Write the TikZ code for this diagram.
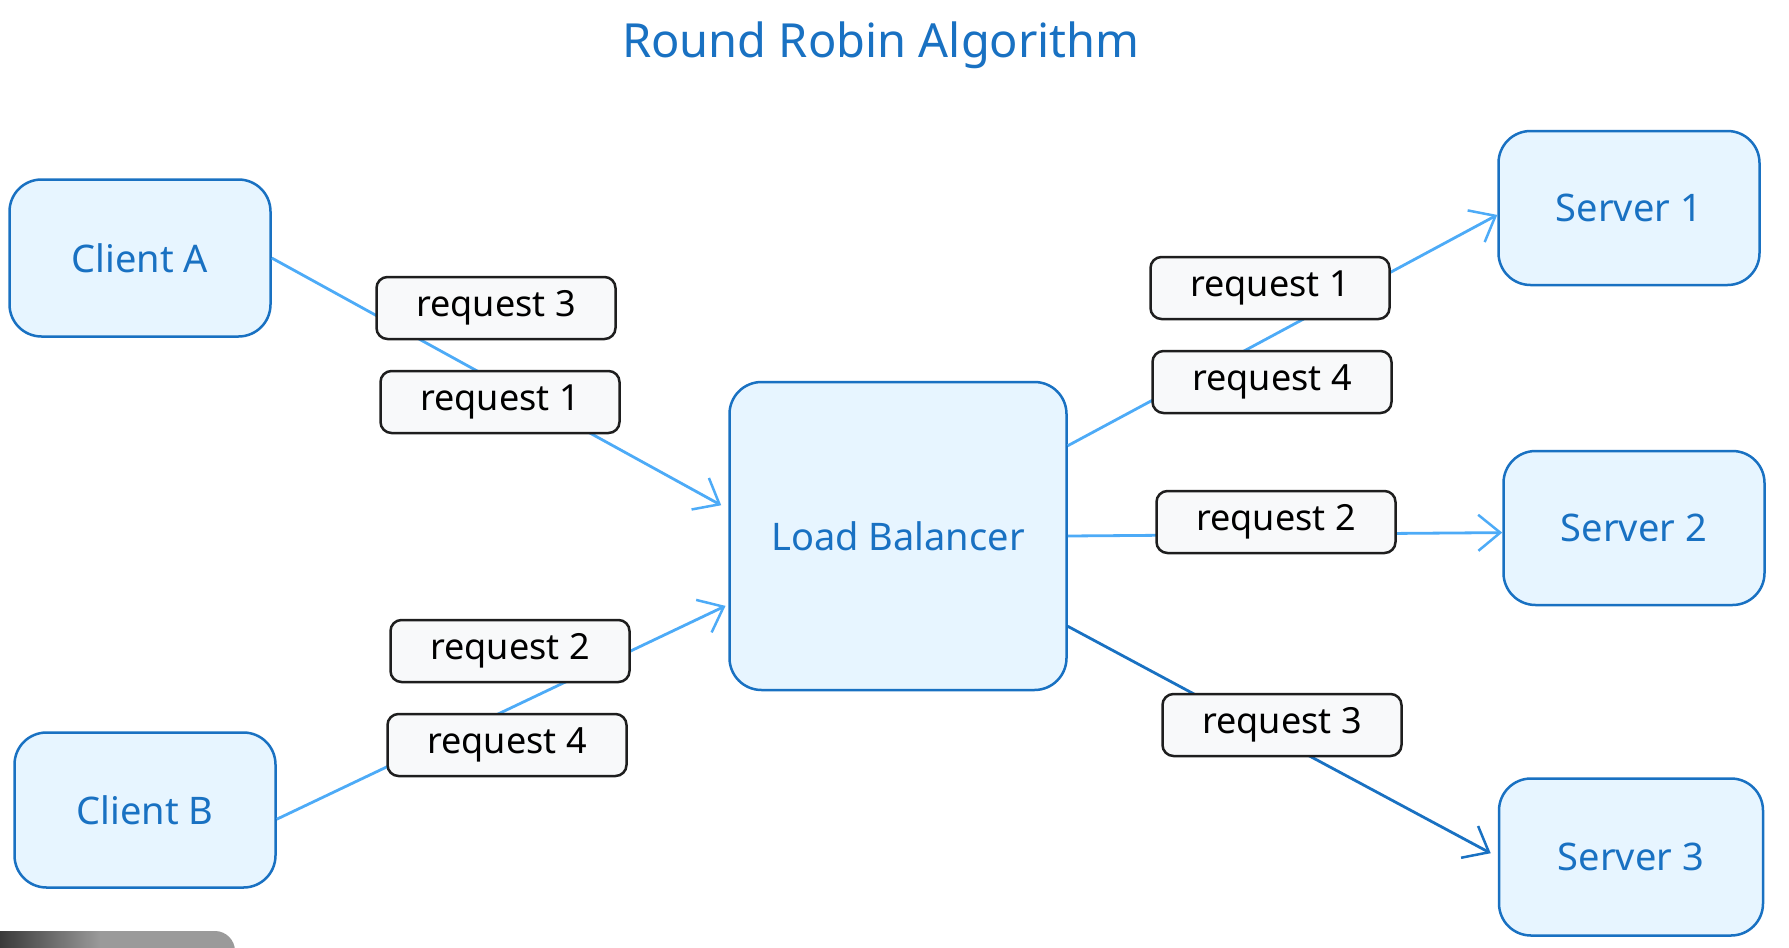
\documentclass[tikz,border=0pt]{standalone}
\usepackage{fontspec}
\setmainfont{Noto Sans}
\usetikzlibrary{arrows.meta,calc}
\definecolor{boxfill}{HTML}{E7F5FF}
\definecolor{boxline}{HTML}{1971C2}
\definecolor{arrlight}{HTML}{4DABF7}
\definecolor{tagfill}{HTML}{F8F9FA}
\definecolor{tagline}{HTML}{1E1E1E}
\definecolor{bargray}{HTML}{9A9A9A}
\definecolor{bardark}{HTML}{3A3A3A}
\tikzset{
  bigbox/.style={draw=boxline, fill=boxfill, line width=2.5pt, rounded corners=32pt,
    text=boxline, font=\fontsize{38}{44}\selectfont, inner sep=0pt},
  tag/.style={draw=tagline, fill=tagfill, line width=2.5pt, rounded corners=11pt,
    minimum width=239pt, minimum height=62pt, inner sep=0pt,
    font=\fontsize{36}{40}\selectfont},
  arr/.style={draw=arrlight, line width=2.8pt,
    -{Straight Barb[length=22pt,width=36pt,line width=2.5pt]}},
  arrdark/.style={arr, draw=boxline},
}
\begin{document}
\begin{tikzpicture}[x=1pt,y=-1pt]
\useasboundingbox (0,0) rectangle (1789,948);
% screenshot artifact at bottom left
\begin{scope}
\clip (0,0) rectangle (1789,948);
\fill[bargray] (0,970) -- (0,931) -- (215,931) .. controls (226,931) and (235,940) .. (235,951) -- (235,970) -- cycle;
\shade[left color=bardark, right color=bargray] (0,931) rectangle (100,970);
\end{scope}
% title
\node[text=boxline, font=\fontsize{47}{54}\selectfont] (title) at (881,45) {Round Robin Algorithm};
% main boxes
\node[bigbox, minimum width=261pt, minimum height=157pt] (ca) at (140,258) {Client A};
\node[bigbox, minimum width=261pt, minimum height=155pt] (cb) at (145,810) {Client B};
\node[bigbox, minimum width=337pt, minimum height=308pt] (lb) at (898,536) {Load Balancer};
\node[bigbox, minimum width=261pt, minimum height=154pt] (s1) at (1629,208) {Server 1};
\node[bigbox, minimum width=261pt, minimum height=154pt] (s2) at (1634,528) {Server 2};
\node[bigbox, minimum width=264pt, minimum height=157pt] (s3) at (1631,857) {Server 3};
% connectors
\draw[arr, shorten >=8pt] (ca.east) -- (lb.171);
\draw[arr, shorten >=3pt] (cb.-4) -- (lb.202);
\draw[arr] (lb.28) -- (s1.183);
\draw[arr] (lb.east) -- (s2.182);
\draw[arrdark, shorten >=8pt] (lb.-28) -- (s3.west);
% request tags
\node[tag] (la3) at (496,308) {request 3};
\node[tag] (la1) at (500,402) {request 1};
\node[tag] (lb2) at (510,651) {request 2};
\node[tag] (lb4) at (507,745) {request 4};
\node[tag] (r1) at (1270,288) {request 1};
\node[tag] (r4) at (1272,382) {request 4};
\node[tag] (r2) at (1276,522) {request 2};
\node[tag] (r3) at (1282,725) {request 3};
\end{tikzpicture}
\end{document}
